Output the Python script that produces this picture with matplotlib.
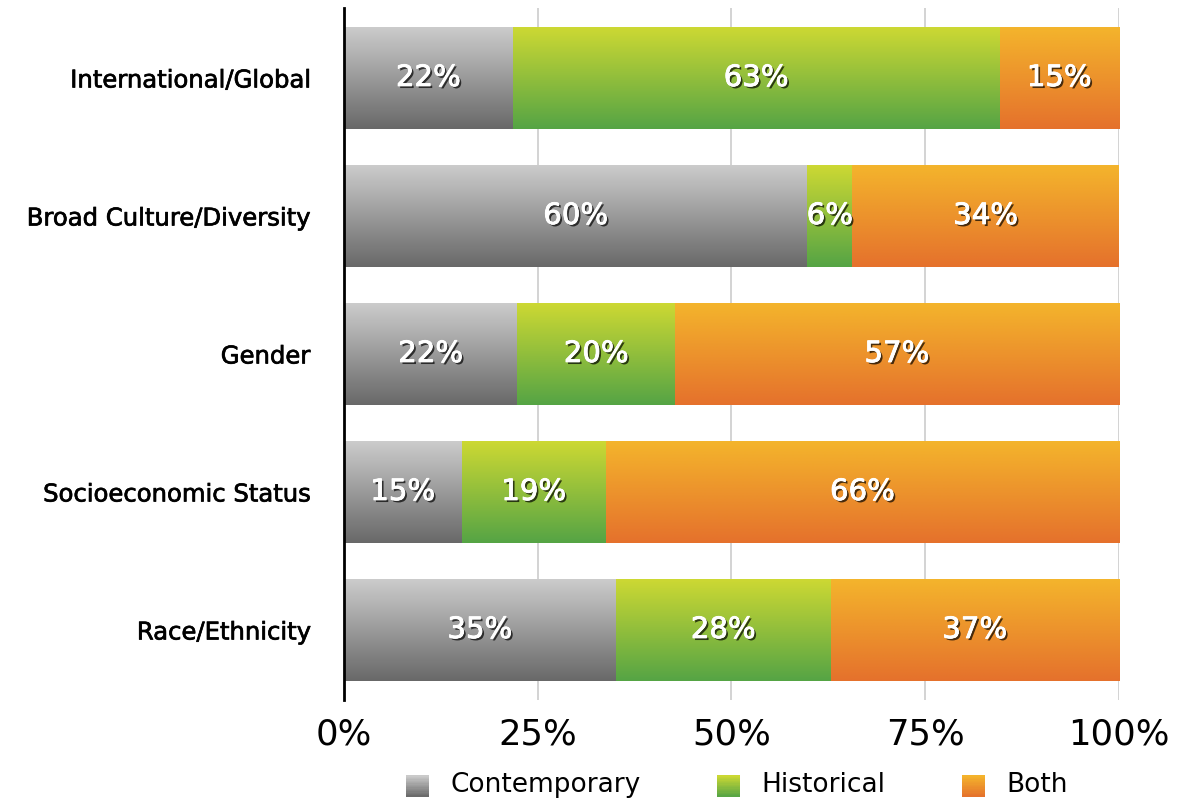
import numpy as np
import matplotlib
matplotlib.use("Agg")
import matplotlib.pyplot as plt
import matplotlib.patheffects as pe
from matplotlib.colors import LinearSegmentedColormap
from matplotlib.patches import Rectangle
from matplotlib.legend_handler import HandlerBase

plt.rcParams['font.family'] = ['DejaVu Sans']

categories = ["Race/Ethnicity", "Socioeconomic Status", "Gender",
              "Broad Culture/Diversity", "International/Global"]
contemporary = [35.1, 15.2, 22.4, 59.8, 21.8]
historical = [27.7, 18.6, 20.3, 5.8, 62.8]
both = [37.2, 66.2, 57.3, 34.4, 15.4]
series_names = ["Contemporary", "Historical", "Both"]
tick_vals = [0, 25, 50, 75, 100]
tick_labels = ["0%", "25%", "50%", "75%", "100%"]

grads = [("#cdcdcd", "#686868"), ("#ced933", "#55a445"), ("#f4b52c", "#e5712c")]
cmaps = [LinearSegmentedColormap.from_list(f"g{i}", [b, t]) for i, (t, b) in enumerate(grads)]
grad_img = np.linspace(0, 1, 256).reshape(-1, 1)

fig = plt.figure(figsize=(11.98, 7.99), dpi=100)
ax = fig.add_axes([0.287, 0.124, 0.647, 0.866])

y = np.arange(len(categories))
left = np.zeros(len(categories))
for vals, cmap in zip([contemporary, historical, both], cmaps):
    bars = ax.barh(y, vals, left=left, height=0.74, color='none', edgecolor='none', zorder=2)
    for bar, v in zip(bars, vals):
        x0, y0 = bar.get_x(), bar.get_y()
        w, h = bar.get_width(), bar.get_height()
        im = ax.imshow(grad_img, cmap=cmap, aspect='auto', origin='lower',
                       extent=[x0, x0 + w, y0, y0 + h], zorder=2, interpolation='bilinear')
        im.set_clip_path(bar)
        ax.text(x0 + w / 2, y0 + h / 2, f"{v:.0f}%", ha='center', va='center',
                color='white', fontsize=21, zorder=5,
                path_effects=[pe.withSimplePatchShadow(offset=(1.5, -1.5), shadow_rgbFace='black', alpha=0.7),
                              pe.withStroke(linewidth=0.6, foreground='white')])
    left = left + np.array(vals)

ax.set_xlim(0, 100)
ax.set_ylim(-0.507, 4.507)
ax.set_xticks(tick_vals)
ax.set_xticklabels(tick_labels, fontsize=25.5)
ax.set_yticks(y)
ax.set_yticklabels(categories, fontsize=17.5)
for t in ax.get_yticklabels():
    t.set_path_effects([pe.withStroke(linewidth=0.5, foreground='black')])
ax.tick_params(axis='y', length=0, pad=24)
ax.tick_params(axis='x', length=0, pad=13)
ax.grid(axis='x', color='#cccccc', linewidth=1.2, zorder=0)
ax.set_axisbelow(True)
for s in ['top', 'right', 'bottom']:
    ax.spines[s].set_visible(False)
ax.spines['left'].set_linewidth(2)
ax.spines['left'].set_color('black')


class GradHandler(HandlerBase):
    def __init__(self, cmap):
        super().__init__()
        self.cmap = cmap

    def create_artists(self, legend, orig_handle, xdescent, ydescent, width, height, fontsize, trans):
        n = 16
        arts = []
        side_w = width
        side_h = height * 0.9
        x0 = -xdescent
        y0 = -ydescent - 0.08 * height
        for i in range(n):
            c = self.cmap(1 - (i + 0.5) / n)
            r = Rectangle((x0, y0 + side_h * (n - 1 - i) / n), side_w, side_h / n + 0.3,
                          facecolor=c, edgecolor='none', transform=trans)
            arts.append(r)
        return arts


handles = [Rectangle((0, 0), 1, 1) for _ in series_names]
leg = fig.legend(handles, series_names, loc='lower center', bbox_to_anchor=(0.615, -0.029),
                 ncol=3, frameon=False, fontsize=19, handlelength=0.88, handleheight=1.0,
                 columnspacing=2.9, handletextpad=0.8,
                 handler_map={h: GradHandler(c) for h, c in zip(handles, cmaps)})

fig.savefig("out.png", dpi=100)
